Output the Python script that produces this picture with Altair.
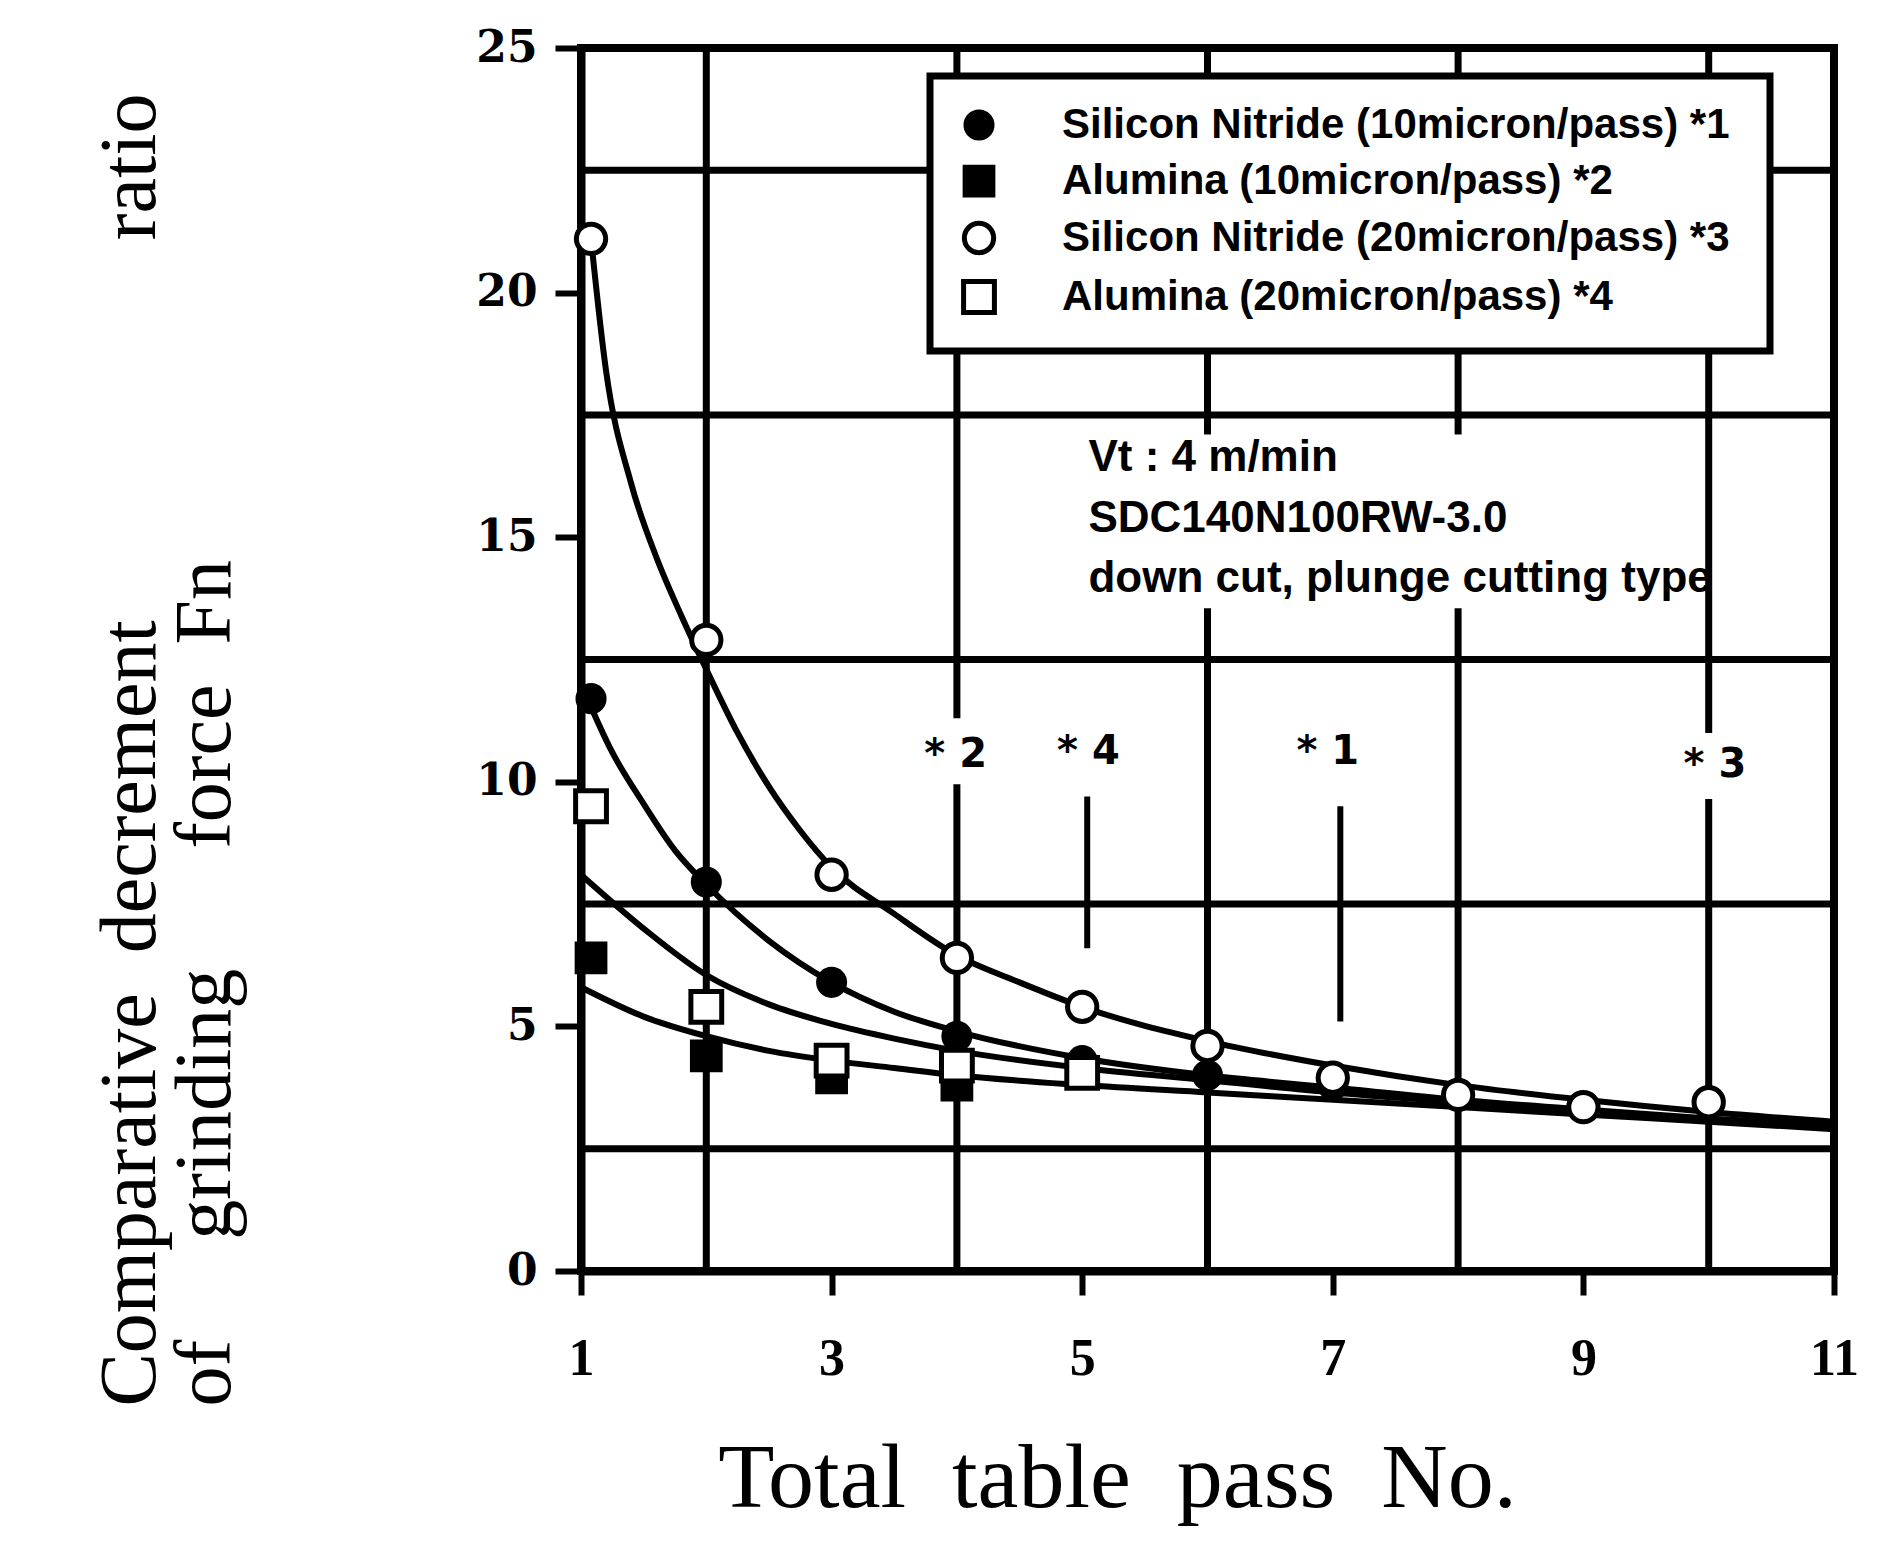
import altair as alt
import pandas as pd

# ---------------- data ----------------
series_names = [
    "Silicon Nitride (10micron/pass)  *1",
    "Alumina (10micron/pass)  *2",
    "Silicon Nitride (20micron/pass)  *3",
    "Alumina (20micron/pass)  *4",
]

# measured points (total table pass No. -> ratio)
sn10_x = [1.08, 2, 3, 4, 5, 6, 7]
sn10_y = [11.7, 7.95, 5.9, 4.8, 4.3, 4.0, 3.8]
al10_x = [1.08, 2, 3, 4]
al10_y = [6.4, 4.4, 3.95, 3.8]
sn20_x = [1.08, 2, 3, 4, 5, 6, 7, 8, 9, 10]
sn20_y = [21.1, 12.9, 8.1, 6.4, 5.4, 4.6, 3.95, 3.6, 3.35, 3.45]
al20_x = [1.08, 2, 3, 4, 5]
al20_y = [9.5, 5.4, 4.3, 4.2, 4.05]

# fitted curves
fitA_x = [1.08, 1.2, 1.4, 1.6, 1.8, 2.0, 2.25, 2.5, 2.75, 3.0, 3.5, 4.0, 4.5, 5.0, 6.0, 7.0, 8.0, 9.0, 10.0, 11.0]
fitA_y = [21.1, 18.4, 16.1, 14.6, 13.4, 12.3, 11.0, 9.9, 9.0, 8.25, 7.3, 6.45, 5.9, 5.4, 4.7, 4.2, 3.8, 3.5, 3.25, 3.05]
fitB_x = [1.0, 1.25, 1.5, 1.75, 2.0, 2.5, 3.0, 3.5, 4.0, 5.0, 6.0, 7.0, 8.0, 9.0, 10.0, 11.0]
fitB_y = [12.0, 10.6, 9.55, 8.6, 7.9, 6.75, 5.9, 5.3, 4.9, 4.35, 4.0, 3.75, 3.5, 3.3, 3.12, 2.97]
fitC_x = [1.0, 1.5, 2.0, 2.5, 3.0, 3.5, 4.0, 5.0, 6.0, 7.0, 8.0, 9.0, 10.0, 11.0]
fitC_y = [8.1, 7.0, 6.05, 5.45, 5.05, 4.75, 4.5, 4.15, 3.9, 3.65, 3.45, 3.25, 3.1, 2.95]
fitD_x = [1.0, 1.5, 2.0, 2.5, 3.0, 3.5, 4.0, 5.0, 6.0, 7.0, 8.0, 9.0, 10.0, 11.0]
fitD_y = [5.8, 5.2, 4.8, 4.5, 4.3, 4.15, 4.0, 3.8, 3.65, 3.5, 3.35, 3.2, 3.05, 2.9]

# grid and ticks
x_ticks = [1, 3, 5, 7, 9, 11]
y_ticks = [0, 5, 10, 15, 20, 25]
x_grid = [2, 4, 6, 8, 10]
y_grid = [2.5, 7.5, 12.5, 17.5, 22.5]

# annotations
star_text = ["* 2", "* 4", "* 1", "* 3"]
star_x = [3.99, 5.05, 6.96, 10.05]
star_y = [10.55, 10.6, 10.6, 10.35]
ptr_x = [5.04, 7.06]
ptr_y = [9.7, 9.5]
ptr_y2 = [6.6, 5.1]
note_lines = ["Vt : 4 m/min", "SDC140N100RW-3.0", "down cut, plunge cutting type"]
note_x = [5.05, 5.05, 5.05]
note_y = [16.35, 15.1, 13.87]
# white areas behind annotation text (gridline gaps)
mask_x = [3.6, 9.65, 4.95]
mask_x2 = [4.4, 10.45, 9.75]
mask_y = [9.95, 9.65, 13.55]
mask_y2 = [11.3, 11.0, 17.1]

NB = "\u00a0"
x_title = "Total" + NB * 2 + "table" + NB * 2 + "pass" + NB * 2 + "No."
y_title = [
    "Comparative" + NB * 2 + "decrement" + NB * 19 + "ratio",
    "of" + NB * 5 + "grinding" + NB * 6 + "force" + NB * 2 + "Fn",
]

# ---------------- tables ----------------
pts = pd.DataFrame({
    "x": sn10_x + al10_x + sn20_x + al20_x,
    "y": sn10_y + al10_y + sn20_y + al20_y,
    "s": [series_names[0]] * len(sn10_x) + [series_names[1]] * len(al10_x)
         + [series_names[2]] * len(sn20_x) + [series_names[3]] * len(al20_x),
})
fits = pd.DataFrame({
    "x": fitA_x + fitB_x + fitC_x + fitD_x,
    "y": fitA_y + fitB_y + fitC_y + fitD_y,
    "c": ["A"] * len(fitA_x) + ["B"] * len(fitB_x) + ["C"] * len(fitC_x) + ["D"] * len(fitD_x),
})
xg = pd.DataFrame({"v": x_grid})
yg = pd.DataFrame({"v": y_grid})
stars = pd.DataFrame({"t": star_text, "x": star_x, "y": star_y})
ptrs = pd.DataFrame({"x": ptr_x, "y": ptr_y, "y2": ptr_y2})
notes = pd.DataFrame({"t": note_lines, "x": note_x, "y": note_y})
masks = pd.DataFrame({"x": mask_x, "x2": mask_x2, "y": mask_y, "y2": mask_y2})

SANS = "Liberation Sans"
xs = alt.Scale(domain=[1, 11], nice=False, zero=False)
ys = alt.Scale(domain=[0, 25], nice=False, zero=False)

x_axis = alt.Axis(
    values=x_ticks, format="d", grid=False, title=x_title,
    tickSize=24, tickWidth=6, tickColor="black",
    domainWidth=8, domainColor="black",
    labelFont="Liberation Serif", labelFontSize=52, labelFontWeight="bold", labelColor="black",
    labelPadding=38, labelFlush=False,
    titleFont="Liberation Serif", titleFontSize=92, titleFontWeight="normal", titleColor="black",
    titleX=536, titleY=235, titleAlign="center", titleBaseline="alphabetic",
)
y_axis = alt.Axis(
    values=y_ticks, format="d", grid=False, title=y_title,
    tickSize=26, tickWidth=6, tickColor="black",
    domainWidth=8, domainColor="black",
    labelFont="DejaVu Serif", labelFontSize=44, labelFontWeight="bold", labelColor="black",
    labelPadding=18, labelFlush=False,
    titleFont="Liberation Serif", titleFontSize=80, titleFontWeight="normal", titleColor="black",
    titleAngle=270, titleAlign="left", titleBaseline="alphabetic",
    titleX=-427, titleY=1358, titleLineHeight=75,
)

X = lambda f: alt.X(f, type="quantitative", scale=xs, axis=x_axis)
Y = lambda f: alt.Y(f, type="quantitative", scale=ys, axis=y_axis)

hgrid = alt.Chart(yg).mark_rule(color="black", strokeWidth=7).encode(y=Y("v"))
vgrid = alt.Chart(xg).mark_rule(color="black", strokeWidth=7).encode(x=X("v"))
mask = alt.Chart(masks).mark_rect(color="white").encode(
    x=X("x"), x2="x2:Q", y=Y("y"), y2="y2:Q",
)
pointer = alt.Chart(ptrs).mark_rule(color="black", strokeWidth=6).encode(
    x=X("x"), y=Y("y"), y2="y2:Q",
)
curves = alt.Chart(fits).mark_line(color="black", strokeWidth=6, interpolate="monotone").encode(
    x=X("x"), y=Y("y"), detail="c:N",
)
points = alt.Chart(pts).mark_point(filled=True, strokeWidth=5, opacity=1).encode(
    x=X("x"), y=Y("y"),
    shape=alt.Shape("s:N", scale=alt.Scale(domain=series_names, range=["circle", "square", "circle", "square"]), title=None),
    fill=alt.Fill("s:N", scale=alt.Scale(domain=series_names, range=["black", "black", "white", "white"]), title=None),
    stroke=alt.Stroke("s:N", scale=alt.Scale(domain=series_names, range=["black", "black", "black", "black"]), title=None),
    size=alt.Size("s:N", scale=alt.Scale(domain=series_names, range=[680, 950, 680, 950]), title=None),
)
star_lbl = alt.Chart(stars).mark_text(
    font="DejaVu Sans", fontSize=40, fontWeight="bold", color="black", align="center", baseline="middle"
).encode(x=X("x"), y=Y("y"), text="t:N")
note_lbl = alt.Chart(notes).mark_text(
    font=SANS, fontSize=44, fontWeight="bold", color="black", align="left", baseline="alphabetic"
).encode(x=X("x"), y=Y("y"), text="t:N")

chart = alt.layer(hgrid, vgrid, mask, pointer, curves, points, star_lbl, note_lbl).properties(
    width=1253, height=1223,
    autosize=alt.AutoSizeParams(type="none"),
    padding={"left": 573, "top": 40, "right": 47, "bottom": 268},
    background="white",
).configure_view(
    stroke="black", strokeWidth=8
).configure_legend(
    orient="none", legendX=349, legendY=28,
    padding=28, strokeColor="black", strokeWidth=7, fillColor="white", cornerRadius=0,
    labelFont=SANS, labelFontSize=42, labelFontWeight="bold", labelColor="black",
    labelOffset=62, rowPadding=8, labelLimit=1000,
    symbolStrokeWidth=5,
)

chart.save("out.html", embed_options={"renderer": "svg", "actions": False})
